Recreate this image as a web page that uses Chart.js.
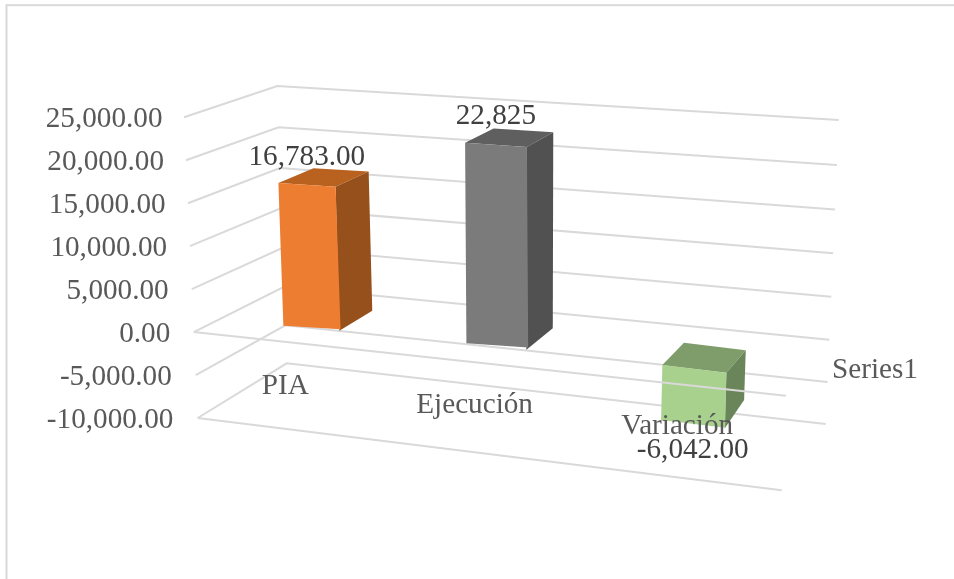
<!DOCTYPE html>
<html>
<head>
<meta charset="utf-8">
<style>
  html, body { margin: 0; padding: 0; background: #fff; }
  canvas { display: block; }
</style>
<script src="https://cdn.jsdelivr.net/npm/chart.js@4/dist/chart.umd.min.js"></script>
</head>
<body>
<canvas id="chart" width="954" height="579"></canvas>
<script>
const categories = ['PIA', 'Ejecución', 'Variación'];
const values = [16783, 22825, -6042];
const valueLabels = ['16,783.00', '22,825', '-6,042.00'];
const seriesName = 'Series1';
const axisMin = -10000;
const axisMax = 25000;
const axisStep = 5000;
const frontColors = ['#ed7d31', '#7b7b7b', '#a9d18e'];
const topColors = ['#b9621f', '#5f5f5f', '#7f9d6a'];
const sideColors = ['#96501b', '#515151', '#6a8559'];

const FONT = '"Liberation Serif", serif';
const GRID = '#d9d9d9';

// The plot is flat for Chart.js; these fits bend it into the 3D view of the picture.
const CX = 496.3;

function view(x, v) {
  const bent = x + 1.76e-4 * (x - CX) * (x - CX);
  const sx = bent + (bent - 510) * v * 1.31e-6;
  const zero = 325.7 + 0.0963 * (bent - 283.3) + 3.86e-5 * (bent - 283.3) * (bent - 466);
  const perK = 8.54 + (bent - 311) * 0.0016;
  return { x: sx, y: zero - v / 1000 * perK };
}

function deepen(p, v) {
  const dx = 35 - (p.x - 280) * 0.035;
  const dy = 20 + (p.x - 310) * 0.0063 - v * (v > 0 ? 0.0003 : 0.00098);
  return { x: p.x + dx, y: p.y - dy };
}

function wall(y) {
  const t = y - 117.3;
  return {
    front: { x: 184 + t * 0.0455, y: y },
    corner: { x: 277.3 + t * 0.03125, y: 86 + t * (0.9669 - t * 1.486e-4) },
    right: { x: 838.7 - t * 0.0432, y: 120 + t * (1.0524 - t * 1.378e-4) }
  };
}

function frontEdge(y) {
  return { x: 785.7 - (y - 334.3) * 0.0478, y: 398.3 + (y - 334.3) * 1.0988 };
}

function poly(ctx, pts, fill) {
  ctx.beginPath();
  pts.forEach((p, i) => (i ? ctx.lineTo(p.x, p.y) : ctx.moveTo(p.x, p.y)));
  ctx.closePath();
  ctx.fillStyle = fill;
  ctx.fill();
}

function stroke(ctx, pts) {
  ctx.beginPath();
  pts.forEach((p, i) => (i ? ctx.lineTo(p.x, p.y) : ctx.moveTo(p.x, p.y)));
  ctx.strokeStyle = GRID;
  ctx.lineWidth = 2;
  ctx.stroke();
}

function text(ctx, str, x, y, color, align) {
  ctx.font = '29.2px ' + FONT;
  ctx.fillStyle = color;
  ctx.textAlign = align || 'center';
  ctx.textBaseline = 'middle';
  ctx.fillText(str, x, y);
}

const view3d = {
  id: 'view3d',
  beforeDatasetsDraw(chart) {
    const { ctx, scales: { y } } = chart;
    ctx.save();

    // chart frame, open to the right and bottom like the picture
    ctx.strokeStyle = GRID;
    ctx.lineWidth = 2;
    ctx.strokeRect(6.5, 5.2, 1200, 1200);

    y.ticks.forEach(tick => {
      const py = y.getPixelForValue(tick.value);
      const w = wall(py);
      stroke(ctx, [w.front, w.corner, w.right]);
      text(ctx, tick.label, 162.5 + (py - 117.3) * 0.036, py + 2, '#595959', 'right');
    });

    const floor = y.getPixelForValue(axisMin);
    stroke(ctx, [wall(floor).front, frontEdge(floor)]);
    ctx.restore();
  },
  beforeDatasetDraw(chart, args) {
    const { ctx, scales: { y } } = chart;
    const meta = args.meta;
    meta.data.forEach((el, i) => {
      const p = el.getProps(['x', 'y', 'base', 'width'], true);
      const left = p.x - p.width / 2;
      const right = p.x + p.width / 2;
      const top = Math.min(p.y, p.base);
      const bottom = Math.max(p.y, p.base);
      const vTop = y.getValueForPixel(top);
      const vBottom = y.getValueForPixel(bottom);

      const tl = view(left, vTop);
      const tr = view(right, vTop);
      const bl = view(left, vBottom);
      const br = view(right, vBottom);

      ctx.save();
      poly(ctx, [tl, tr, deepen(tr, vTop), deepen(tl, vTop)], topColors[i]);
      poly(ctx, [tr, br, deepen(br, vBottom), deepen(tr, vTop)], sideColors[i]);

      // front face is the library's own bar element, carried into the view
      const w = right - left;
      const h = bottom - top;
      const a = (tr.x - tl.x) / w;
      const b = (tr.y - tl.y) / w;
      const c = (bl.x - tl.x) / h;
      const d = (bl.y - tl.y) / h;
      ctx.transform(a, b, c, d, tl.x - a * left - c * top, tl.y - b * left - d * top);
      el.draw(ctx);
      ctx.restore();
    });
    return false;
  },
  afterDatasetsDraw(chart) {
    const { ctx, scales: { x, y } } = chart;
    ctx.save();

    // the floor edge at zero passes in front of the bars
    const zero = y.getPixelForValue(0);
    stroke(ctx, [wall(zero).front, frontEdge(zero)]);

    categories.forEach((name, i) => {
      const c = view(x.getPixelForValue(i), 0);
      text(ctx, name, c.x - 26 + (c.x - 311) * 0.0235, 386 + (c.x - 311) * 0.105, '#595959');
    });
    chart.getDatasetMeta(0).data.forEach((el, i) => {
      const end = view(el.x, values[i]);
      const off = values[i] < 0 ? 26 : -28;
      text(ctx, valueLabels[i], end.x, end.y + off, '#404040');
    });
    text(ctx, chart.data.datasets[0].label, 875, 370, '#595959');
    ctx.restore();
  }
};

new Chart(document.getElementById('chart'), {
  type: 'bar',
  data: {
    labels: categories,
    datasets: [{
      label: seriesName,
      data: values,
      backgroundColor: frontColors,
      borderWidth: 0,
      categoryPercentage: 1,
      barPercentage: 0.3133
    }]
  },
  options: {
    responsive: false,
    animation: false,
    events: [],
    layout: { padding: { left: 209, right: 170.5, top: 117.3, bottom: 161 } },
    plugins: {
      legend: { display: false },
      tooltip: { enabled: false }
    },
    scales: {
      x: { display: false },
      y: {
        display: false,
        min: axisMin,
        max: axisMax,
        ticks: {
          stepSize: axisStep,
          callback: value => value.toLocaleString('en-US', { minimumFractionDigits: 2, maximumFractionDigits: 2 })
        }
      }
    }
  },
  plugins: [view3d]
});
</script>
</body>
</html>
